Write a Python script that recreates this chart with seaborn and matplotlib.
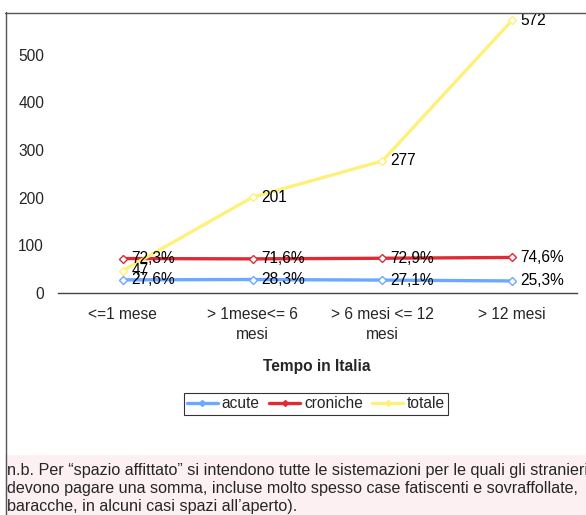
import numpy as np
import pandas as pd
import matplotlib
matplotlib.use("Agg")
import matplotlib.pyplot as plt
from matplotlib.lines import Line2D
from matplotlib.patches import Rectangle
import seaborn as sns

categories = ["<=1 mese", "> 1mese<= 6\nmesi", "> 6 mesi <= 12\nmesi", "> 12 mesi"]
acute = [27.6, 28.3, 27.1, 25.3]
croniche = [72.3, 71.6, 72.9, 74.6]
totale = [47, 201, 277, 572]
acute_labels = ["27,6%", "28,3%", "27,1%", "25,3%"]
croniche_labels = ["72,3%", "71,6%", "72,9%", "74,6%"]
totale_labels = ["47", "201", "277", "572"]
yticks = [0, 100, 200, 300, 400, 500]
xlabel = "Tempo in Italia"
note = ("n.b. Per \u201cspazio affittato\u201d si intendono tutte le sistemazioni per le quali gli stranieri\n"
        "devono pagare una somma, incluse molto spesso case fatiscenti e sovraffollate,\n"
        "baracche, in alcuni casi spazi all\u2019aperto).")

sns.set_style("white")
plt.rcParams['font.family'] = ['Liberation Sans', 'DejaVu Sans']
FS = 11.2
NFS = 11.6

W, H = 586, 515
fig = plt.figure(figsize=(W / 100, H / 100), dpi=100)
ax = fig.add_axes([58 / W, 1 - 293 / H, (577 - 58) / W, (293 - 7) / H])

series = [
    ("acute", acute, acute_labels, "#6aa9ff"),
    ("croniche", croniche, croniche_labels, "#e02b35"),
    ("totale", totale, totale_labels, "#fff07a"),
]
x = np.arange(len(categories))
handles = []
for name, vals, labs, col in series:
    df = pd.DataFrame({"x": x, "y": vals})
    sns.lineplot(data=df, x="x", y="y", ax=ax, color=col, lw=2.4,
                 marker="D", markersize=4, markerfacecolor="white",
                 markeredgecolor=col, markeredgewidth=1.0, legend=False)
    for xi, v, t in zip(x, vals, labs):
        ax.annotate(t, (xi, v), xytext=(6, 0), textcoords="offset points",
                    va="center", ha="left", fontsize=FS, color="black")
    handles.append(Line2D([], [], color=col, lw=2.4, marker="D", markersize=3,
                          markerfacecolor=col, markeredgecolor=col, label=name))

ax.set_xlim(-0.5, len(categories) - 0.5)
ax.set_ylim(0, 600)
ax.set_yticks(yticks)
ax.set_yticklabels([str(v) for v in yticks], fontsize=FS)
ax.tick_params(axis="y", length=0, pad=10)
ax.set_xticks(x)
ax.set_xticklabels(categories, fontsize=FS, linespacing=1.4)
ax.tick_params(axis="x", which="major", length=0, pad=10)
ax.set_xticks(np.arange(len(categories) + 1) - 0.5, minor=True)
ax.tick_params(axis="x", which="minor", length=5, direction="out", color="#444444", width=1)
for s in ["top", "right", "left"]:
    ax.spines[s].set_visible(False)
ax.spines["bottom"].set_color("#444444")
ax.spines["bottom"].set_linewidth(1)
ax.set_xlabel("")
ax.set_ylabel("")

fig.text(317 / W, 1 - 366 / H, xlabel, ha="center", va="center",
         fontsize=FS, fontweight="bold")

leg = fig.legend(handles=handles, loc="center", bbox_to_anchor=(316 / W, 1 - 404 / H),
                 ncol=3, fontsize=FS, frameon=True, fancybox=False, edgecolor="black",
                 handlelength=2.0, handletextpad=0.25, columnspacing=0.6,
                 borderpad=0.2, borderaxespad=0)
leg.get_frame().set_linewidth(0.8)

fig.patches.append(Rectangle((5 / W, 0), 1 - 5 / W, (515 - 455) / H,
                             transform=fig.transFigure, facecolor="#fcf0f3",
                             edgecolor="none", zorder=0))
fig.text(7 / W, 1 - 463 / H, note, ha="left", va="top", fontsize=NFS, linespacing=1.25)

fig.lines.append(Line2D([5.5 / W, 5.5 / W], [0, 1 - 12 / H], transform=fig.transFigure,
                        color="#555555", lw=1))
fig.lines.append(Line2D([5 / W, 1], [1 - 12.5 / H, 1 - 12.5 / H], transform=fig.transFigure,
                        color="#555555", lw=1))

fig.savefig("out.png", dpi=100)
